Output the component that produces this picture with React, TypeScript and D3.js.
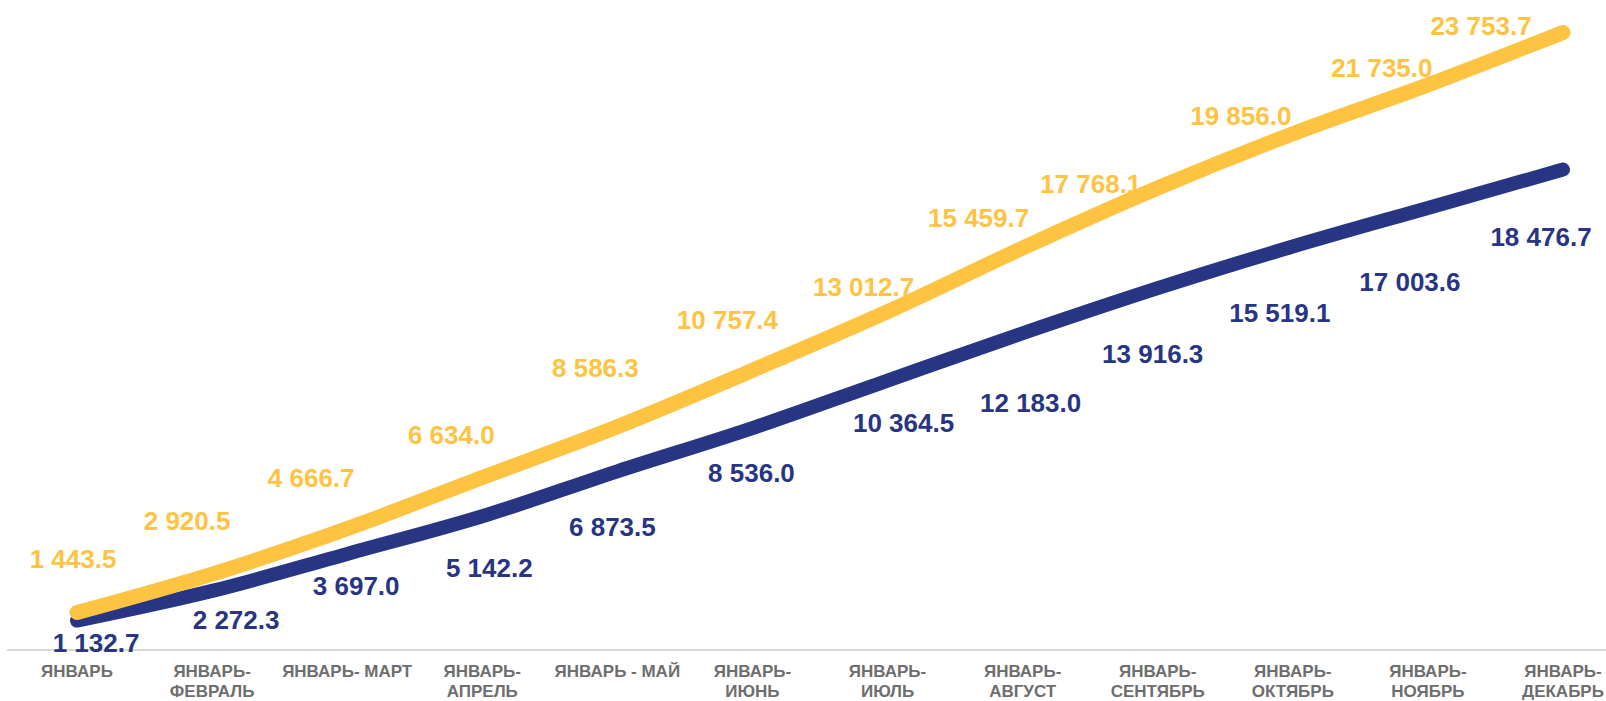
import React from "react";
import * as d3 from "d3";

const categories: string[] = [
  "ЯНВАРЬ",
  "ЯНВАРЬ-\nФЕВРАЛЬ",
  "ЯНВАРЬ- МАРТ",
  "ЯНВАРЬ-\nАПРЕЛЬ",
  "ЯНВАРЬ - МАЙ",
  "ЯНВАРЬ-\nИЮНЬ",
  "ЯНВАРЬ-\nИЮЛЬ",
  "ЯНВАРЬ-\nАВГУСТ",
  "ЯНВАРЬ-\nСЕНТЯБРЬ",
  "ЯНВАРЬ-\nОКТЯБРЬ",
  "ЯНВАРЬ-\nНОЯБРЬ",
  "ЯНВАРЬ-\nДЕКАБРЬ",
];

const seriesYellow: number[] = [
  1443.5, 2920.5, 4666.7, 6634.0, 8586.3, 10757.4, 13012.7, 15459.7, 17768.1,
  19856.0, 21735.0, 23753.7,
];

const seriesBlue: number[] = [
  1132.7, 2272.3, 3697.0, 5142.2, 6873.5, 8536.0, 10364.5, 12183.0, 13916.3,
  15519.1, 17003.6, 18476.7,
];

// layout: label centre offsets from the point (px)
const yellowLabelOffsets: [number, number][] = [
  [-4, -54], [-25, -53], [-36, -51], [-31, -43], [-22, -59], [-25, -51],
  [-24, -25], [-44, -30], [-67, -4], [-52, -18], [-46, -17], [-82, -7],
];
const blueLabelOffsets: [number, number][] = [
  [19, 22], [24, 29], [9, 32], [7, 51], [-5, 55], [-1, 45],
  [16, 42], [8, 69], [-5, 65], [-13, 66], [-18, 74], [-22, 67],
];

const W = 1606;
const H = 701;
const YELLOW = "#FFC342";
const BLUE = "#283583";
const fmt = (v: number) => {
  const s = v.toFixed(1);
  const [i, d] = s.split(".");
  return i.replace(/\B(?=(\d{3})+(?!\d))/g, " ") + "." + d;
};

export default function App() {
  const x = d3
    .scalePoint<string>()
    .domain(categories)
    .range([77, 1563]);
  const y = d3.scaleLinear().domain([0, 25000]).range([650, 0]);

  const line = d3
    .line<number>()
    .x((_, i) => x(categories[i]) as number)
    .y((d) => y(d))
    .curve(d3.curveMonotoneX);

  const font = "'Liberation Sans', Arial, sans-serif";

  return (
    <svg
      width={W}
      height={H}
      style={{ position: "absolute", left: 0, top: 0, background: "#fff" }}
    >
      <line x1={7} x2={W} y1={650} y2={650} stroke="#D9D9D9" strokeWidth={2} />
      {categories.map((c) => {
        const lines = c.split("\n");
        return (
          <text
            key={c}
            x={x(c)}
            y={677}
            textAnchor="middle"
            fontFamily={font}
            fontWeight="bold"
            fontSize={17}
            fill="#6E6E6E"
          >
            {lines.map((l, j) => (
              <tspan key={j} x={x(c)} dy={j === 0 ? 0 : 20}>
                {l}
              </tspan>
            ))}
          </text>
        );
      })}
      <path
        d={line(seriesBlue) || ""}
        fill="none"
        stroke={BLUE}
        strokeWidth={14}
        strokeLinecap="round"
        strokeLinejoin="round"
      />
      <path
        d={line(seriesYellow) || ""}
        fill="none"
        stroke={YELLOW}
        strokeWidth={15}
        strokeLinecap="round"
        strokeLinejoin="round"
      />
      {seriesYellow.map((v, i) => (
        <text
          key={"y" + i}
          x={(x(categories[i]) as number) + yellowLabelOffsets[i][0]}
          y={y(v) + yellowLabelOffsets[i][1]}
          dy="0.36em"
          textAnchor="middle"
          fontFamily={font}
          fontWeight="bold"
          fontSize={26}
          fill={YELLOW}
        >
          {fmt(v)}
        </text>
      ))}
      {seriesBlue.map((v, i) => (
        <text
          key={"b" + i}
          x={(x(categories[i]) as number) + blueLabelOffsets[i][0]}
          y={y(v) + blueLabelOffsets[i][1]}
          dy="0.36em"
          textAnchor="middle"
          fontFamily={font}
          fontWeight="bold"
          fontSize={26}
          fill={BLUE}
        >
          {fmt(v)}
        </text>
      ))}
    </svg>
  );
}
